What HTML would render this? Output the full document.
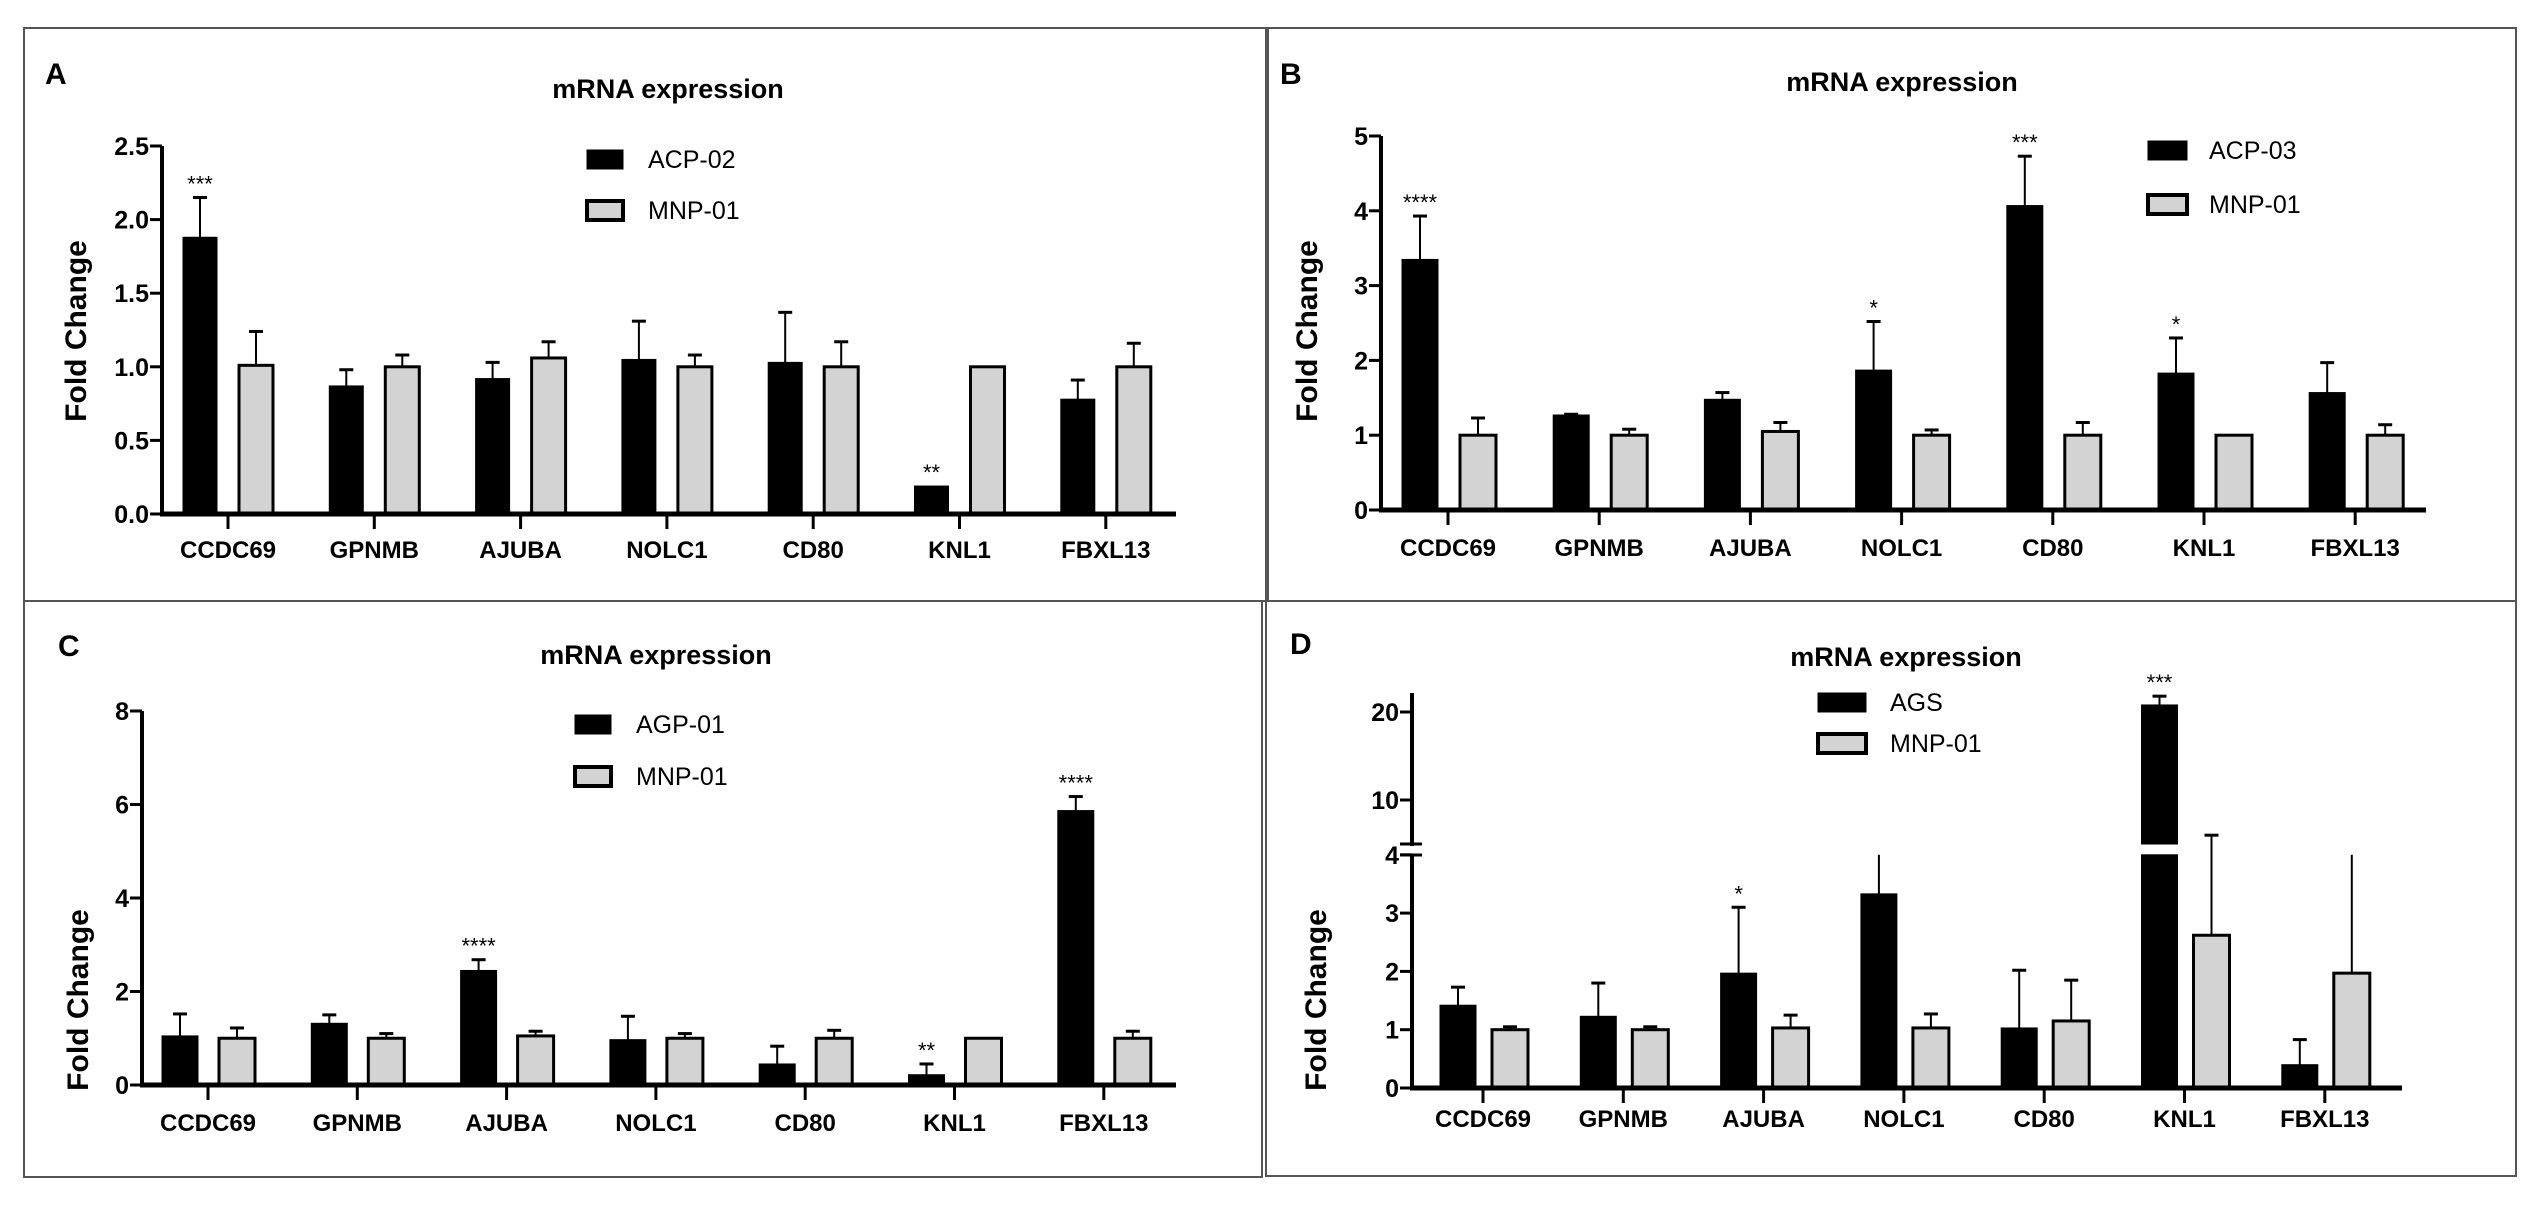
<!DOCTYPE html>
<html><head><meta charset="utf-8"><style>
html,body{margin:0;padding:0;background:#fff;}
svg{display:block;font-family:"Liberation Sans",Arial,sans-serif;}
</style></head><body>
<svg id="fig" width="2527" height="1211" viewBox="0 0 2527 1211" xmlns="http://www.w3.org/2000/svg"></svg>
<script>
const categories = ["CCDC69","GPNMB","AJUBA","NOLC1","CD80","KNL1","FBXL13"];
// Panel A
const aSeries = ["ACP-02","MNP-01"];
const aBlack = [1.88,0.87,0.92,1.05,1.03,0.19,0.78];
const aBlackErr = [2.15,0.98,1.03,1.31,1.37,0.19,0.91];
const aGrey = [1.01,1.0,1.06,1.0,1.0,1.0,1.0];
const aGreyErr = [1.24,1.08,1.17,1.08,1.17,1.0,1.16];
const aStars = ["***","","","","","**",""];
const aTicks = ["0.0","0.5","1.0","1.5","2.0","2.5"];
const aTickVals = [0,0.5,1,1.5,2,2.5];
// Panel B
const bSeries = ["ACP-03","MNP-01"];
const bBlack = [3.35,1.27,1.48,1.87,4.07,1.83,1.57];
const bBlackErr = [3.93,1.28,1.57,2.52,4.73,2.3,1.97];
const bGrey = [1.0,1.0,1.05,1.0,1.0,1.0,1.0];
const bGreyErr = [1.23,1.08,1.17,1.07,1.17,1.0,1.14];
const bStars = ["****","","","*","***","*",""];
const bTicks = ["0","1","2","3","4","5"];
const bTickVals = [0,1,2,3,4,5];
// Panel C
const cSeries = ["AGP-01","MNP-01"];
const cBlack = [1.05,1.32,2.45,0.97,0.45,0.22,5.87];
const cBlackErr = [1.52,1.5,2.68,1.47,0.83,0.45,6.17];
const cGrey = [1.0,1.0,1.05,1.0,1.0,1.0,1.0];
const cGreyErr = [1.22,1.1,1.15,1.1,1.17,1.0,1.15];
const cStars = ["","","****","","","**","****"];
const cTicks = ["0","2","4","6","8"];
const cTickVals = [0,2,4,6,8];
// Panel D
const dSeries = ["AGS","MNP-01"];
const dBlack = [1.42,1.23,1.97,3.33,1.03,20.8,0.4];
const dBlackErr = [1.73,1.8,3.1,4.0,2.02,21.8,0.83];
const dGrey = [1.0,1.0,1.03,1.03,1.15,2.62,1.97];
const dGreyErr = [1.05,1.05,1.25,1.27,1.85,6.0,4.0];
const dStars = ["","","*","","","***",""];
const dTicks = ["0","1","2","3","4","10","20"];
const dTickVals = [0,1,2,3,4,10,20];

const NS="http://www.w3.org/2000/svg";
const svg=document.getElementById('fig');
function mk(tag,attrs,parent,text){const e=document.createElementNS(NS,tag);for(const k in attrs)e.setAttribute(k,attrs[k]);if(text!==undefined)e.textContent=text;(parent||svg).appendChild(e);return e;}

function panel(p){
  const g=mk('g',{});
  
  
  const border=mk('rect',{x:p.box[0],y:p.box[1],width:p.box[2]-p.box[0],height:p.box[3]-p.box[1],fill:'none',stroke:'#555',"stroke-width":2},g);
  
  
  const lt=mk('text',{x:p.letterPos[0],y:p.letterPos[1],"font-size":30,"font-weight":"bold"},g,p.letter);
  
  
  const tt=mk('text',{x:p.titlePos[0],y:p.titlePos[1],"font-size":27,"font-weight":"bold","text-anchor":"middle"},g,'mRNA expression');
  
  
  const yt=mk('text',{x:0,y:0,"font-size":30,"font-weight":"bold","text-anchor":"middle",transform:`translate(${p.yTitle[0]},${p.yTitle[1]}) rotate(-90)`},g,'Fold Change');
  
  
  const Y=p.yScale;
  // bars
  const series=[[p.black,p.blackErr,'#000',p.offB],[p.grey,p.greyErr,'#d3d3d3',p.offG]];
  series.forEach((s,si)=>{
    s[0].forEach((v,i)=>{
      const cx=p.x0+i*p.step+s[3];
      const segs=p.segments?p.segments(v):[[0,v]];
      segs.forEach(sg=>{
        const y1=Y(sg[1]),y2=Y(sg[0]);
        const r=mk('rect',{x:cx-p.bw/2,y:y1,width:p.bw,height:Math.max(0,y2-y1),fill:s[2],stroke:'#000',"stroke-width":si?3:1},g);
        
        
      });
      const e=s[1][i];
      if(e>v){
        const ye=Y(e),yv=Y(v);
        const l=mk('line',{x1:cx,x2:cx,y1:ye,y2:yv,stroke:'#000',"stroke-width":2},g);
        
        
        if(!p.noCap||!p.noCap(e)){
          const c=mk('line',{x1:cx-7,x2:cx+7,y1:ye,y2:ye,stroke:'#000',"stroke-width":3},g);
          
          
        }
      }
      if(si===0&&p.stars[i]){
        const st=mk('text',{x:cx,y:Y(Math.max(e,v))-6,"font-size":22,"text-anchor":"middle"},g,p.stars[i]);
        
        
      }
    });
  });
  // axes
  const ax=p.axisX;
  (p.yAxisSegs||[[p.yTop,Y(0)]]).forEach(sg=>{
    const l=mk('line',{x1:ax,x2:ax,y1:sg[0],y2:sg[1]+2,stroke:'#000',"stroke-width":4},g);
    
    
  });
  const xl=mk('line',{x1:ax-2,x2:p.xEnd,y1:Y(0),y2:Y(0),stroke:'#000',"stroke-width":5},g);
  
  
  p.tickVals.forEach((tv,i)=>{
    const y=Y(tv);
    const tl=mk('line',{x1:ax-12,x2:ax,y1:y,y2:y,stroke:'#000',"stroke-width":3},g);
    
    
    const t=mk('text',{x:ax-13,y:y+9,"font-size":25,"font-weight":"bold","text-anchor":"end"},g,p.ticks[i]);
    
    
  });
  categories.forEach((c,i)=>{
    const x=p.x0+i*p.step;
    const tl=mk('line',{x1:x,x2:x,y1:Y(0),y2:Y(0)+15,stroke:'#000',"stroke-width":3},g);
    
    
    const t=mk('text',{x:x,y:p.labelY+9,"font-size":24,"font-weight":"bold","text-anchor":"middle"},g,c);
    
    
  });
  // legend
  p.series.forEach((nm,i)=>{
    const y=p.leg[1]+i*p.legGap;
    const r=mk('rect',{x:p.leg[0],y:y,width:p.legW,height:19,fill:i?'#d3d3d3':'#000',stroke:'#000',"stroke-width":i?4:1},g);
    
    
    const t=mk('text',{x:p.legText,y:y+18,"font-size":25},g,nm);
    
    
  });
}

panel({letter:'A',box:[24,28,1268,601],letterPos:[45,84],titlePos:[668,98],yTitle:[86,331],
  yScale:v=>514-v*(514-146)/2.5,yTop:146,axisX:162,xEnd:1176,x0:228,step:146.3,offB:-28,offG:28,bw:34,
  black:aBlack,blackErr:aBlackErr,grey:aGrey,greyErr:aGreyErr,stars:aStars,ticks:aTicks,tickVals:aTickVals,
  labelY:549,series:aSeries,leg:[587,150],legGap:51,legW:36,legText:648});
panel({letter:'B',box:[1266,28,2516,601],letterPos:[1280,84],titlePos:[1902,91],yTitle:[1317,331],
  yScale:v=>510-v*(510-136)/5,yTop:136,axisX:1381,xEnd:2426,x0:1448,step:151.2,offB:-28,offG:30,bw:36,
  black:bBlack,blackErr:bBlackErr,grey:bGrey,greyErr:bGreyErr,stars:bStars,ticks:bTicks,tickVals:bTickVals,
  labelY:547,series:bSeries,leg:[2148,141],legGap:54,legW:39,legText:2209});
panel({letter:'C',box:[24,601,1262,1177],letterPos:[58,656],titlePos:[656,664],yTitle:[88,1000],
  yScale:v=>1085-v*(1085-711)/8,yTop:711,axisX:142,xEnd:1176,x0:208,step:149.3,offB:-28,offG:29,bw:36,
  black:cBlack,blackErr:cBlackErr,grey:cGrey,greyErr:cGreyErr,stars:cStars,ticks:cTicks,tickVals:cTickVals,
  labelY:1122,series:cSeries,leg:[575,715],legGap:52,legW:36,legText:636});
const dY=v=> v<=4.3 ? 1088-v*58.3 : 800-(v-10)*8.8;
panel({letter:'D',box:[1266,601,2516,1176],letterPos:[1290,654],titlePos:[1906,666],yTitle:[1326,1000],
  yScale:dY,yAxisSegs:[[693,844],[855,1088]],axisX:1412,xEnd:2402,x0:1483,step:140.3,offB:-25,offG:27,bw:36,
  segments:v=> v>4.3 ? [[0,4],[5,v]] : [[0,v]], noCap:e=>e===4.0,
  black:dBlack,blackErr:dBlackErr,grey:dGrey,greyErr:dGreyErr,stars:dStars,ticks:dTicks,tickVals:dTickVals,
  labelY:1118,series:dSeries,leg:[1818,693],legGap:41,legW:48,legText:1890});
// axis break marks
[844,855].forEach(y=>{
  const b=mk('line',{x1:1400,x2:1422,y1:y,y2:y,stroke:'#000',"stroke-width":3});
  
  
});
</script>
</body></html>
